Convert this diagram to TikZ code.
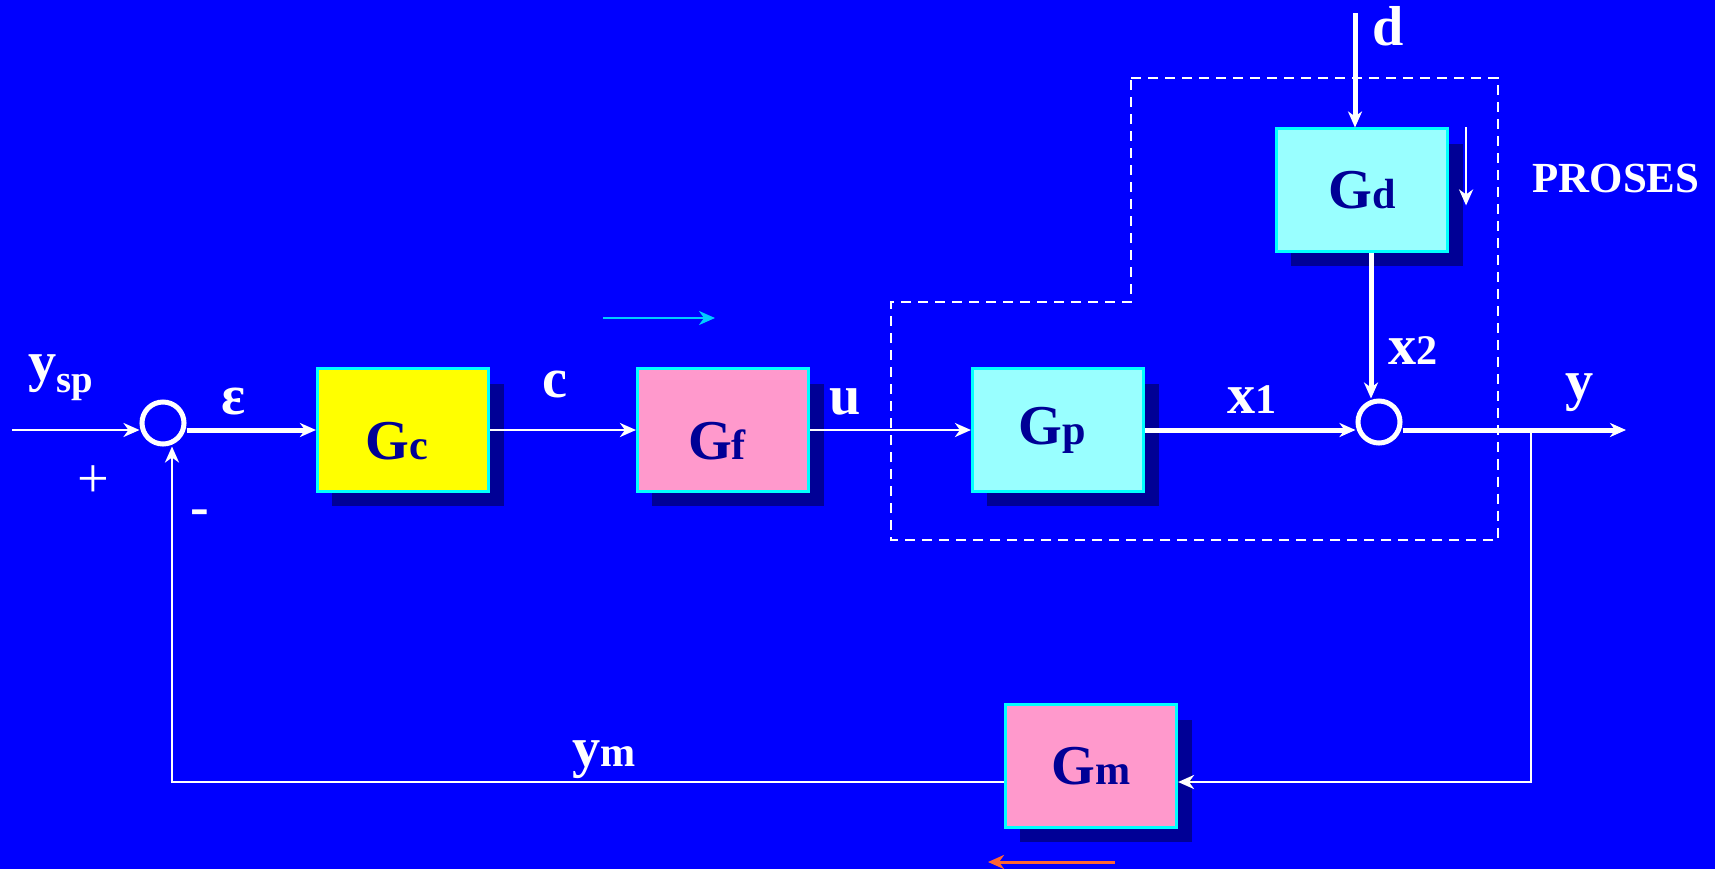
\documentclass[tikz,border=0pt]{standalone}
\usepackage{fontspec}
\setmainfont{Liberation Serif}
\usetikzlibrary{arrows.meta,shadows}

\definecolor{bgblue}{RGB}{0,0,255}
\definecolor{navy}{RGB}{0,0,150}
\definecolor{boxedge}{RGB}{0,255,255}
\definecolor{boxyellow}{RGB}{255,255,0}
\definecolor{boxpink}{RGB}{255,153,204}
\definecolor{boxaqua}{RGB}{153,255,255}
\definecolor{skyarrow}{RGB}{0,204,255}
\definecolor{orangearrow}{RGB}{255,102,51}

\newcommand{\blk}[2]{{\fontsize{16}{16}\selectfont #1}{\fontsize{12}{12}\selectfont #2}}

\begin{document}
\begin{tikzpicture}[x=0.01cm, y=-0.01cm, >={Stealth[length=0.16cm,width=0.14cm,inset=0.05cm]},
	blkbox/.style={draw=boxedge, line width=0.03cm, minimum width=1.71cm, minimum height=1.22cm, inner sep=0pt,
		text=navy, font=\bfseries, drop shadow={shadow xshift=0.15cm, shadow yshift=-0.15cm, fill=navy, opacity=1}},
	sunk/.style={text height=0.6cm},
	nudge/.style={execute at end node={\hspace{0.12cm}}},
	sumpt/.style={circle, draw=white, line width=0.05cm, minimum size=0.42cm, inner sep=0pt},
	thinsig/.style={white, line width=0.025cm, ->},
	thicksig/.style={white, line width=0.05cm, ->},
	lbl/.style={text=white, font=\bfseries\fontsize{16}{16}\selectfont, inner sep=0pt}]
		\fill[bgblue] (0,0) rectangle (1715,869);
		% process boundary
		\draw[white, line width=0.02cm, dash pattern=on 0.1cm off 0.07cm]
			(1131,78) -- (1498,78) -- (1498,540) -- (891,540) -- (891,302) -- (1131,302) -- cycle;
		% blocks
		\coordinate (in) at (12,430);
		\node[sumpt] (s1) at (163,423) {};
		\node[blkbox, fill=boxyellow, sunk, nudge] (gc) at (403,430) {\blk{G}{c}};
		\node[blkbox, fill=boxpink, sunk, nudge] (gf) at (723,430) {\blk{G}{f}};
		\node[blkbox, fill=boxaqua, nudge] (gp) at (1058,430) {\blk{G}{p}};
		\node[sumpt] (s2) at (1379,422) {};
		\node[blkbox, fill=boxaqua] (gd) at (1362,190) {\blk{G}{d}};
		\node[blkbox, fill=boxpink] (gm) at (1091,766) {\blk{G}{m}};
		\coordinate (out) at (1626,430);
		\coordinate (tap) at (1531,430);
		\coordinate (fb) at (1531,782);
		\coordinate (fbl) at (172,782);
		\coordinate (dist) at (1355,13);
		% signals
		\draw[thinsig] (in) -- (in -| s1.west);
		\draw[thicksig] (s1.east |- in) -- (gc.west);
		\draw[thinsig] (gc.east) -- (gf.west);
		\draw[thinsig] (gf.east) -- (gp.west);
		\draw[thicksig] (gp.east) -- (gp.east -| s2.west);
		\draw[thicksig] (s2.east |- gp.east) -- (out);
		\draw[thicksig] (dist) -- (dist |- gd.north);
		\draw[thicksig] ([xshift=0.09cm]gd.south) -- ([xshift=0.09cm]gd.south |- s2.north);
		\draw[thinsig] ([xshift=0.17cm]gd.north east) -- ++(0,78);
		\draw[thinsig] (tap) -- (fb) -- (fb -| gm.east);
		\draw[thinsig] (fb -| gm.west) -- (fbl) -- (fbl |- s1.south);
		% loose arrows
		\coordinate (sky1) at (603,318);
		\coordinate (sky2) at (715,318);
		\draw[skyarrow, line width=0.025cm, ->] (sky1) -- (sky2);
		\coordinate (or1) at (1115,862);
		\coordinate (or2) at (988,862);
		\draw[orangearrow, line width=0.03cm, ->] (or1) -- (or2);
		% labels
		\node[lbl] (lysp) at (61,378) {y\raisebox{-0.12cm}{\fontsize{11}{11}\selectfont sp}};
		\node[lbl] (leps) at (234,402) {ε};
		\node[lbl] (lc) at (555,384) {c};
		\node[lbl] (lu) at (845,402) {u};
		\node[lbl] (lx1) at (1252,400) {x{\fontsize{12}{12}\selectfont 1}};
		\node[lbl] (lx2) at (1413,351) {x{\fontsize{12}{12}\selectfont 2}};
		\node[lbl] (ly) at (1580,393) {y};
		\node[lbl] (lym) at (604,760) {y{\fontsize{12}{12}\selectfont m}};
		\node[lbl] (ld) at (1388,26) {d};
		\node[lbl, font=\fontsize{16}{16}\selectfont] (lplus) at (93,482) {+};
		\node[lbl] (lminus) at (200,518) {-};
		\node[lbl, font=\bfseries\fontsize{12.2}{12.2}\selectfont] (lproses) at (1616,178) {PROSES};
	\end{tikzpicture}
\end{document}
